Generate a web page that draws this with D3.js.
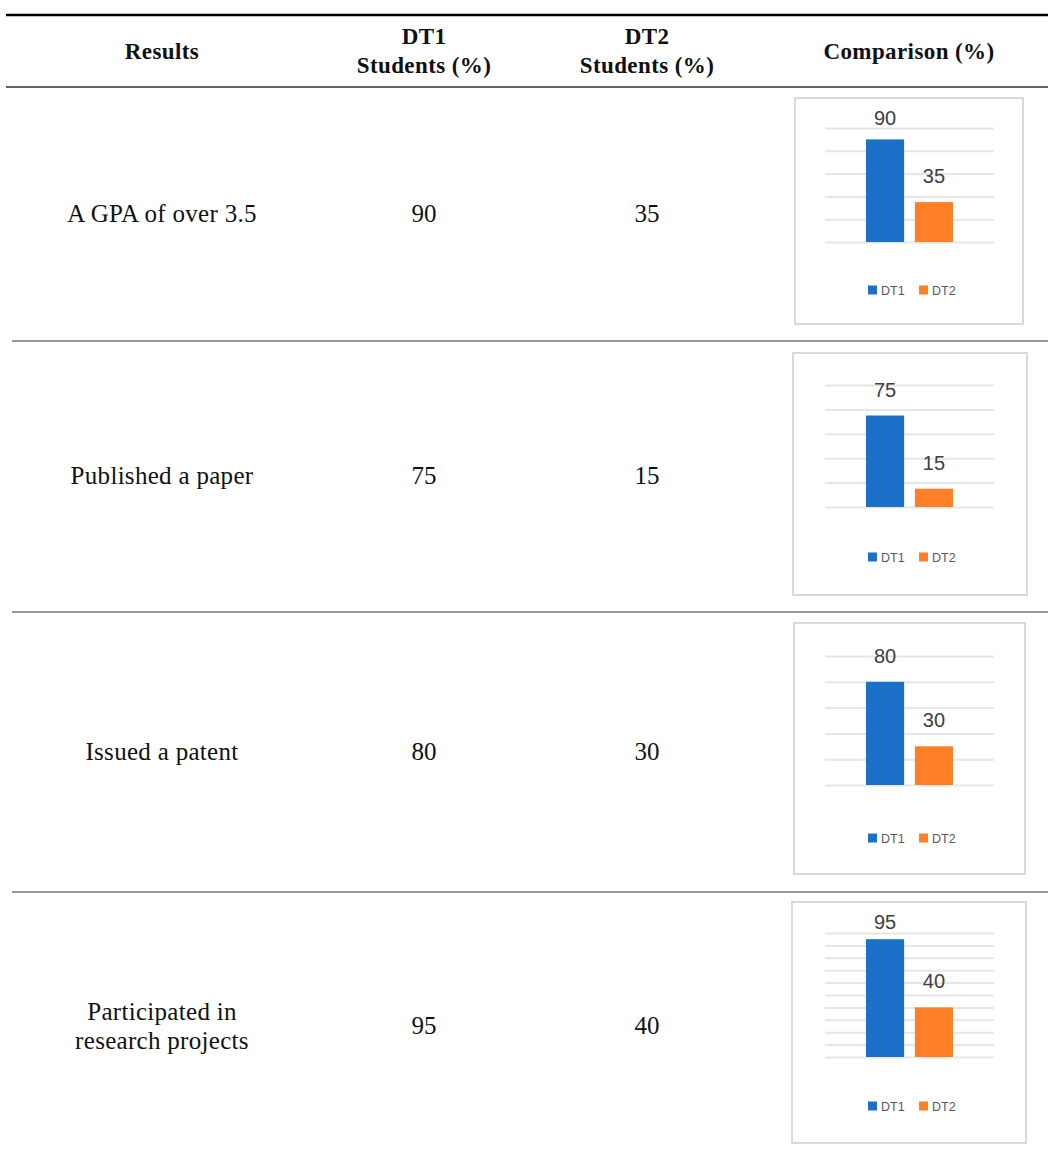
<!DOCTYPE html>
<html>
<head>
<meta charset="utf-8">
<script src="https://cdn.jsdelivr.net/npm/d3@7"></script>
<style>
  body { margin: 0; background: #fff; }
  svg { display: block; }
</style>
</head>
<body>
<svg id="table"></svg>
<script>
const W = 1048, H = 1151;

// data
const results = [
  ["A GPA of over 3.5"],
  ["Published a paper"],
  ["Issued a patent"],
  ["Participated in", "research projects"],
];
const dt1 = [90, 75, 80, 95];
const dt2 = [35, 15, 30, 40];
const gridStep = [20, 20, 20, 10];
const series = ["DT1", "DT2"];
const headers = [["Results"], ["DT1", "Students (%)"], ["DT2", "Students (%)"], ["Comparison (%)"]];

// layout
const colX = [162, 424, 647, 909];
const rowMid = [214, 476, 752, 1026];
const rules = [341, 612, 892];
const boxes = [
  { x: 795, y: 98, w: 228, h: 226, top: 128, base: 242, leg: 290 },
  { x: 793, y: 353, w: 234, h: 242, top: 385, base: 507, leg: 557 },
  { x: 794, y: 623, w: 231, h: 251, top: 656, base: 785, leg: 838 },
  { x: 792, y: 902, w: 234, h: 241, top: 933, base: 1057, leg: 1106 },
];
const colors = { DT1: "#1b70c8", DT2: "#ff7f27" };
const serif = "'Liberation Serif', 'DejaVu Serif', serif";
const sans = "'Liberation Sans', 'Open Sans', sans-serif";

const svg = d3.select("#table").attr("width", W).attr("height", H);

// rules
svg.append("line").attr("x1", 6).attr("x2", W).attr("y1", 15).attr("y2", 15)
  .attr("stroke", "#000").attr("stroke-width", 2.5);
svg.append("line").attr("x1", 6).attr("x2", W).attr("y1", 87).attr("y2", 87)
  .attr("stroke", "#666").attr("stroke-width", 2);
svg.selectAll(".rule").data(rules).enter().append("line")
  .attr("class", "rule")
  .attr("x1", 12).attr("x2", W)
  .attr("y1", (d) => d).attr("y2", (d) => d)
  .attr("stroke", "#777").attr("stroke-width", 1.5);

// header
headers.forEach((lines, i) => {
  const t = svg.append("text")
    .attr("x", colX[i])
    .attr("text-anchor", "middle")
    .attr("font-family", serif)
    .attr("font-weight", "bold")
    .attr("font-size", 23)
    .attr("letter-spacing", 0.4)
    .attr("fill", "#111");
  const y0 = lines.length === 1 ? 59 : 44;
  lines.forEach((l, j) => {
    t.append("tspan").attr("x", colX[i]).attr("y", y0 + j * 29).text(l);
  });
});

// body rows
results.forEach((lines, i) => {
  const t = svg.append("text")
    .attr("x", colX[0])
    .attr("text-anchor", "middle")
    .attr("font-family", serif)
    .attr("font-size", 25)
    .attr("letter-spacing", 0.3)
    .attr("fill", "#111");
  const y0 = rowMid[i] + 8 - (lines.length - 1) * 14.5;
  lines.forEach((l, j) => {
    t.append("tspan").attr("x", colX[0]).attr("y", y0 + j * 29).text(l);
  });

  [dt1[i], dt2[i]].forEach((v, k) => {
    svg.append("text")
      .attr("x", colX[k + 1])
      .attr("y", rowMid[i] + 8)
      .attr("text-anchor", "middle")
      .attr("font-family", serif)
      .attr("font-size", 25)
      .attr("fill", "#111")
      .text(v);
  });

  drawMini(i);
});

function drawMini(i) {
  const b = boxes[i];
  const g = svg.append("g");
  const vals = [dt1[i], dt2[i]];

  g.append("rect")
    .attr("x", b.x).attr("y", b.y).attr("width", b.w).attr("height", b.h)
    .attr("fill", "#fff").attr("stroke", "#d9d9d9").attr("stroke-width", 2);

  const y = d3.scaleLinear().domain([0, 100]).range([b.base, b.top]);
  const x = d3.scaleBand().domain(series).range([866, 953]).paddingInner(0.22);

  // gridlines
  g.append("g")
    .attr("transform", "translate(825,0)")
    .call(d3.axisRight(y).tickValues(d3.range(0, 101, gridStep[i])).tickSize(169).tickFormat(""))
    .call((a) => a.select(".domain").remove())
    .selectAll("line")
    .attr("stroke", "#e6e6e6")
    .attr("stroke-width", 2);

  g.selectAll(".bar").data(vals).enter().append("rect")
    .attr("class", "bar")
    .attr("x", (d, k) => x(series[k]))
    .attr("y", (d) => y(d))
    .attr("width", x.bandwidth())
    .attr("height", (d) => y(0) - y(d))
    .attr("fill", (d, k) => colors[series[k]]);

  // labels sit above the bar, but are pushed down near the top of the box
  g.selectAll(".lbl").data(vals).enter().append("text")
    .attr("class", "lbl")
    .attr("x", (d, k) => x(series[k]) + x.bandwidth() / 2)
    .attr("y", (d) => Math.max(y(d) - 19, b.y + 27))
    .attr("text-anchor", "middle")
    .attr("font-family", sans)
    .attr("font-size", 20)
    .attr("fill", "#404040")
    .text((d) => d);

  // legend
  const leg = g.selectAll(".leg").data(series).enter().append("g")
    .attr("class", "leg")
    .attr("transform", (d, k) => "translate(" + (868 + k * 51) + "," + b.leg + ")");
  leg.append("rect").attr("x", 0).attr("y", -4.5).attr("width", 9).attr("height", 9)
    .attr("fill", (d) => colors[d]);
  leg.append("text").attr("x", 13).attr("y", 4.5)
    .attr("font-family", sans).attr("font-size", 12.5).attr("fill", "#595959")
    .text((d) => d);
}
</script>
</body>
</html>
